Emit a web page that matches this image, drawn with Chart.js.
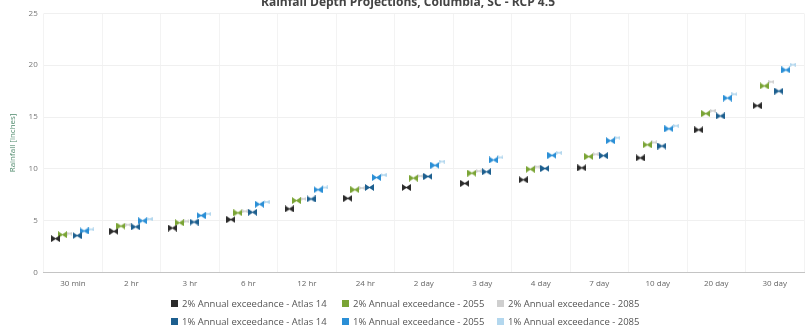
<!DOCTYPE html>
<html>
<head>
<meta charset="utf-8">
<script src="https://cdn.jsdelivr.net/npm/chart.js@4"></script>
<style>
  html, body { margin: 0; padding: 0; background: #fff; overflow: hidden; }
  #wrap { width: 809px; height: 303px; margin-top: -7px; position: relative; }
  #legend { position: absolute; left: 0; top: 294px; width: 809px;
            font-family: "Open Sans", sans-serif; font-size: 9.5px; color: #555; }
  #legend .row { display: flex; height: 18px; align-items: center; padding-left: 171px; }
  #legend .item { display: flex; align-items: center; white-space: nowrap; }
  #legend .item:nth-child(1) { width: 171px; }
  #legend .item:nth-child(2) { width: 155px; }
  #legend .box { width: 7px; height: 7px; margin-right: 4px; }
</style>
</head>
<body>
<div id="wrap"><canvas id="chart"></canvas></div>
<div id="legend"></div>
<script>
"use strict"

/*====================================================================
Data
====================================================================*/
var categories = ["30 min", "2 hr", "3 hr", "6 hr", "12 hr", "24 hr", "2 day",
                  "3 day", "4 day", "7 day", "10 day", "20 day", "30 day"]

var seriesNames = ["2% Annual exceedance - Atlas 14", "2% Annual exceedance - 2055",
                   "2% Annual exceedance - 2085", "1% Annual exceedance - Atlas 14",
                   "1% Annual exceedance - 2055", "1% Annual exceedance - 2085"]

// rainfall depth [inches]
var atlas14_2pct = [3.26, 3.96, 4.28, 5.10, 6.13, 7.15, 8.20, 8.59, 8.94, 10.09, 11.05, 13.76, 16.09]
var y2055_2pct   = [3.64, 4.47, 4.79, 5.75, 6.93, 7.98, 9.10, 9.58, 9.96, 11.18, 12.32, 15.33, 18.00]
var y2085_2pct   = [3.75, 4.60, 4.93, 5.90, 7.10, 8.15, 9.30, 9.78, 10.20, 11.40, 12.55, 15.60, 18.40]
var atlas14_1pct = [3.55, 4.40, 4.86, 5.81, 7.09, 8.20, 9.26, 9.71, 10.03, 11.27, 12.20, 15.10, 17.50]
var y2055_1pct   = [4.00, 4.98, 5.49, 6.58, 7.98, 9.16, 10.34, 10.85, 11.30, 12.71, 13.86, 16.83, 19.54]
var y2085_1pct   = [4.15, 5.15, 5.65, 6.80, 8.20, 9.40, 10.70, 11.10, 11.55, 13.00, 14.15, 17.20, 20.05]

var yTicks = [0, 5, 10, 15, 20, 25]

/*====================================================================
Functions
====================================================================*/
// small bow-tie marker drawn on its own canvas
function bowtie(color, w, h){
    var c = document.createElement("canvas")
    c.width = w
    c.height = h
    var g = c.getContext("2d")
    g.fillStyle = color
    g.beginPath()
    g.moveTo(0, 0)
    g.lineTo(w / 2, h / 2 - 0.5)
    g.lineTo(w, 0)
    g.lineTo(w, h)
    g.lineTo(w / 2, h / 2 + 0.5)
    g.lineTo(0, h)
    g.closePath()
    g.fill()
    return c
}

// points are shifted inside each category so the six series sit side by side
function toPoints(values, shift){
    return values.map(function(v, i){ return {x: i + shift, y: v} })
}

var colors = ["#2b2b2b", "#7aa435", "#cfcfcf", "#1d5f8f", "#2b8fd6", "#b3d7ee"]
var shifts = [-0.30, -0.18, -0.06, 0.07, 0.19, 0.31]
var values = [atlas14_2pct, y2055_2pct, y2085_2pct, atlas14_1pct, y2055_1pct, y2085_1pct]
var faint  = [false, false, true, false, false, true]

var datasets = values.map(function(vals, k){
    return {
        label: seriesNames[k],
        data: toPoints(vals, shifts[k]),
        xAxisID: "xp",
        showLine: false,
        pointStyle: faint[k] ? bowtie(colors[k], 6, 4) : bowtie(colors[k], 9, 7),
        backgroundColor: colors[k],
        borderColor: colors[k]
    }
})

var chart = new Chart(document.getElementById("chart"), {
    type: "scatter",
    data: {labels: categories, datasets: datasets},
    options: {
        responsive: true,
        maintainAspectRatio: false,
        animation: false,
        layout: {padding: {left: 8, right: 1, top: 2, bottom: 0}},
        plugins: {
            legend: {display: false},
            tooltip: {enabled: false},
            title: {
                display: true,
                text: "Rainfall Depth Projections, Columbia, SC - RCP 4.5",
                color: "#444",
                font: {family: "Open Sans", size: 12, weight: "bold"},
                padding: {top: 0, bottom: 4}
            }
        },
        scales: {
            x: {
                type: "category",
                labels: categories,
                offset: true,
                grid: {offset: true, color: "#f3f3f3", drawTicks: false},
                border: {color: "#c4c4c4"},
                ticks: {color: "#666", font: {family: "Open Sans", size: 8}, maxRotation: 0, autoSkip: false, padding: 7}
            },
            xp: {
                type: "linear",
                display: false,
                min: -0.5,
                max: categories.length - 0.5
            },
            y: {
                min: 0,
                max: 25,
                afterBuildTicks: function(axis){ axis.ticks = yTicks.map(function(v){ return {value: v} }) },
                grid: {color: "#f0f0f0", drawTicks: false},
                border: {display: false},
                ticks: {color: "#777", font: {family: "Open Sans", size: 8}, padding: 6},
                title: {display: true, text: "Rainfall [inches]", color: "#4f8a6c", font: {family: "Open Sans", size: 8}, padding: {top: 0, bottom: 5}}
            }
        }
    }
})

// legend laid out in three columns below the chart
var legend = document.getElementById("legend")
for (let r = 0; r < 2; r++){
    var row = document.createElement("div")
    row.className = "row"
    for (let c = 0; c < 3; c++){
        var ds = chart.data.datasets[r * 3 + c]
        var item = document.createElement("div")
        item.className = "item"
        item.innerHTML = '<span class="box" style="background:' + ds.backgroundColor + '"></span>' + ds.label
        row.appendChild(item)
    }
    legend.appendChild(row)
}
</script>
</body>
</html>
